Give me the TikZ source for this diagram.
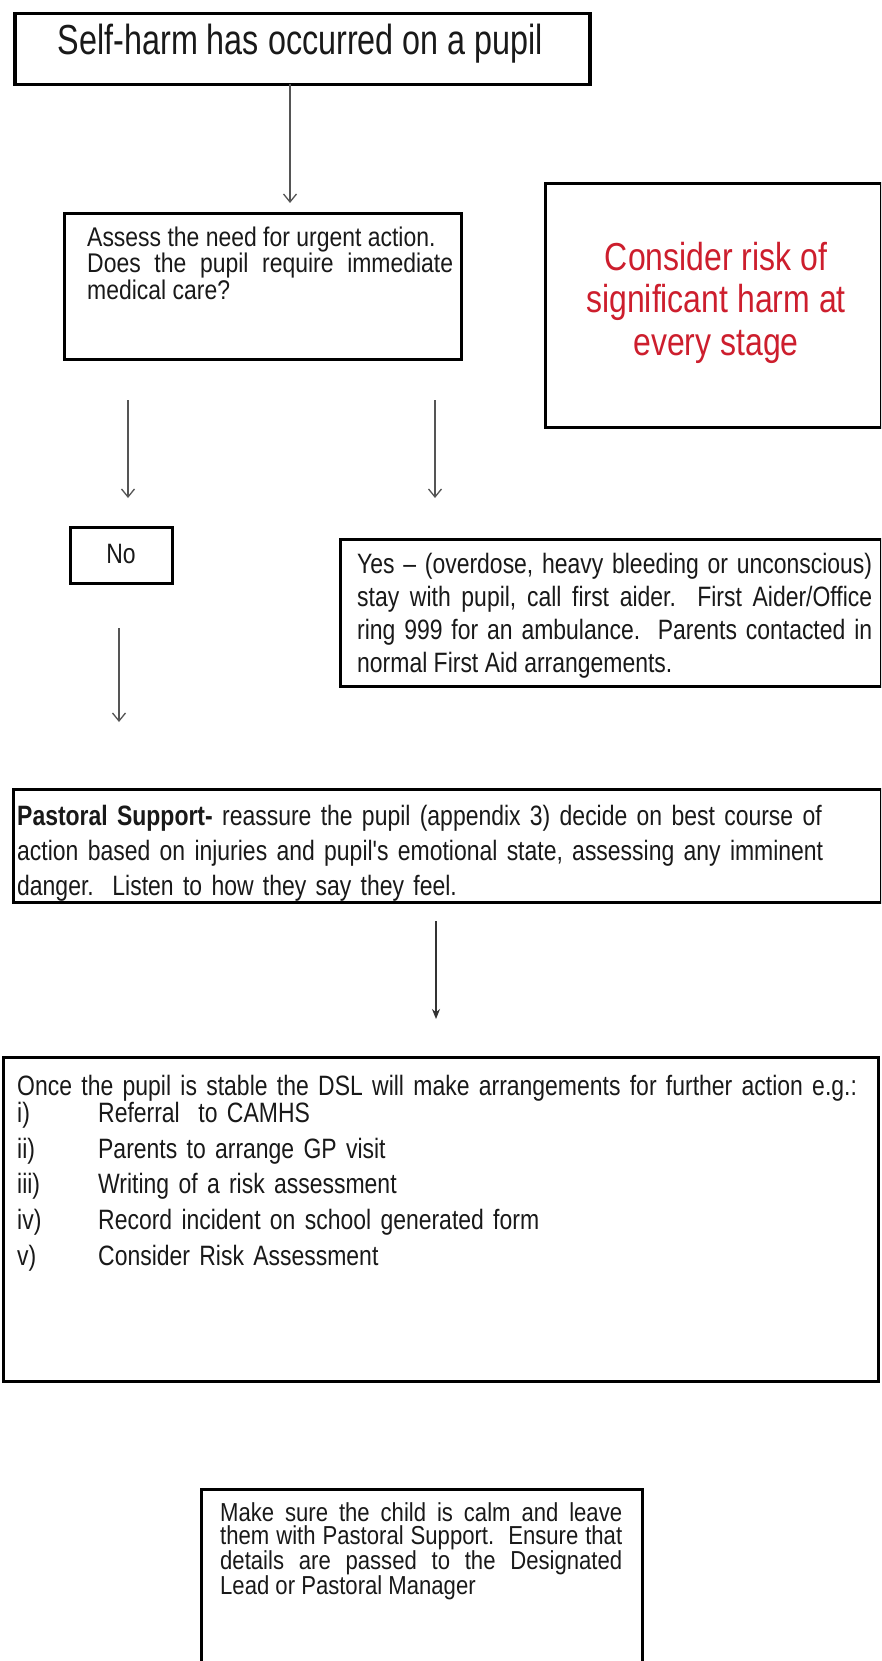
\documentclass[tikz,border=0pt]{standalone}
\usepackage{fontspec}
\setmainfont{Liberation Sans}
\newfontfamily\fbody[FakeStretch=0.82]{Liberation Sans}
\newfontfamily\fbodyb[FakeStretch=0.85]{Liberation Sans}
\newfontfamily\ftitle[FakeStretch=0.77]{Liberation Sans}
\newfontfamily\fred[FakeStretch=0.82]{Liberation Sans}
\usetikzlibrary{arrows.meta,calc}
\definecolor{harmred}{RGB}{205,30,45}
\definecolor{arrowgray}{RGB}{85,85,85}
\definecolor{inktext}{RGB}{25,25,25}
\tikzset{
  box/.style={draw=black, line width=3pt, inner sep=0pt, anchor=north west},
  txt/.style={inner sep=0pt, anchor=north west, text=inktext},
  arr/.style={draw=arrowgray, line width=1.3pt,
    -{Straight Barb[length=8pt,width=13pt,line width=1.3pt]}},
  arrfill/.style={draw=black!80, line width=1.3pt,
    -{Stealth[length=10pt,width=8pt]}},
}
\begin{document}
\begin{tikzpicture}[x=1pt,y=-1pt]
\useasboundingbox (0,0) rectangle (881,1661);
\fill[white] (0,0) rectangle (881,1661);
\clip (0,0) rectangle (881,1661);

% title box
\node[box, line width=3.5pt, minimum width=575pt, minimum height=71pt] (b1) at (13,12) {};
\node[inner sep=0pt, anchor=base, text=inktext, font=\ftitle\fontsize{42}{44}\selectfont] (t1) at (300.5,55) {Self-harm has occurred on a pupil};

% assess box
\node[box, minimum width=397pt, minimum height=146pt] (b2) at (63,212) {};
\node[txt, text width=366pt, align=justify, font=\fbodyb\fontsize{27}{25}\selectfont\frenchspacing] (t2) at (87,227)
  {Assess the need for urgent action.\\ Does the pupil require immediate\linebreak medical care?};

% red box
\node[box, minimum width=336pt, minimum height=244pt] (rb) at (544,182) {};
\node[inner sep=0pt, anchor=base, align=center, text=harmred, font=\fred\fontsize{39}{42.5}\selectfont] (rt) at (716,355)
  {Consider risk of\\ significant harm at\\ every stage};

% no box
\node[box, minimum width=102pt, minimum height=56pt] (nb) at (69,526) {};
\node[inner sep=0pt, anchor=base, text=inktext, font=\fbody\fontsize{28}{33}\selectfont] (nt) at (121,563) {No};

% yes box
\node[box, minimum width=541pt, minimum height=147pt] (yb) at (339,538) {};
\node[txt, text width=515pt, align=justify, font=\fbody\fontsize{28}{33}\selectfont\frenchspacing] (yt) at (357,553)
  {Yes – (overdose, heavy bleeding or unconscious)\linebreak stay with pupil, call first aider.\ \ First Aider/Office\linebreak ring 999 for an ambulance.\ \ Parents contacted in\linebreak normal First Aid arrangements.};

% pastoral box
\node[box, minimum width=868pt, minimum height=113pt] (pb) at (12,788) {};
\node[txt, text width=850pt, align=left, font=\fbody\fontsize{28}{35}\selectfont\frenchspacing] (pt) at (17,805)
  {\textbf{Pastoral Support-} reassure the pupil (appendix 3) decide on best course of\\ action based on injuries and pupil's emotional state, assessing any imminent\\ danger.\ \ Listen to how they say they feel.};

% once box
\node[box, minimum width=875pt, minimum height=324pt] (ob) at (2,1056) {};
\node[txt, text width=850pt, align=left, font=\fbody\fontsize{28}{35.8}\selectfont\frenchspacing] (ot) at (17,1075)
  {Once the pupil is stable the DSL will make arrangements for further action e.g.:\\[-9pt]
   \makebox[81pt][l]{i)}Referral\ \ to CAMHS\\
   \makebox[81pt][l]{ii)}Parents to arrange GP visit\\
   \makebox[81pt][l]{iii)}Writing of a risk assessment\\
   \makebox[81pt][l]{iv)}Record incident on school generated form\\
   \makebox[81pt][l]{v)}Consider Risk Assessment};

% make sure box (runs off the bottom)
\node[box, minimum width=441pt, minimum height=260pt] (mb) at (200,1488) {};
\node[txt, text width=402pt, align=justify, font=\fbodyb\fontsize{26}{23}\selectfont\frenchspacing] (mt) at (220,1502)
  {Make sure the child is calm and leave\linebreak them with Pastoral Support.\ \ Ensure that\linebreak details are passed to the Designated\linebreak Lead or Pastoral Manager};

% arrow end points
\coordinate (a1s) at (290,84);   \coordinate (a1e) at (290,203);
\coordinate (a2s) at (128,400);  \coordinate (a2e) at (128,498);
\coordinate (a3s) at (435,400);  \coordinate (a3e) at (435,498);
\coordinate (a4s) at (119,628);  \coordinate (a4e) at (119,722);
\coordinate (a5s) at (436,921);  \coordinate (a5e) at (436,1019);

\draw[arr] (a1s) -- (a1e);
\draw[arr] (a2s) -- (a2e);
\draw[arr] (a3s) -- (a3e);
\draw[arr] (a4s) -- (a4e);
\draw[arrfill] (a5s) -- (a5e);
\end{tikzpicture}
\end{document}
